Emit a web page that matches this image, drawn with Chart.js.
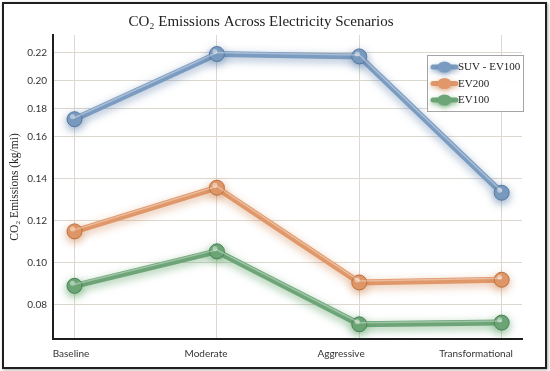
<!DOCTYPE html>
<html>
<head>
<meta charset="utf-8">
<script src="https://cdn.jsdelivr.net/npm/chart.js@4"></script>
<style>
  html, body { margin: 0; padding: 0; background: #ffffff; }
  #wrap { position: relative; width: 550px; height: 371px; }
  #frame {
    position: absolute; left: 2px; top: 2px; width: 545px; height: 367px;
    box-sizing: border-box; border: 2px solid #1e1e1e;
    box-shadow: 1px 1px 3px rgba(0, 0, 0, 0.35);
    pointer-events: none;
  }
  canvas { position: absolute; left: 0; top: 0; }
</style>
</head>
<body>
<div id="wrap">
  <canvas id="chart" width="550" height="371"></canvas>
  <div id="frame"></div>
</div>
<script>
const categories = ['Baseline', 'Moderate', 'Aggressive', 'Transformational']
const suvEv100 = [0.1725, 0.2188, 0.2171, 0.1334]
const ev200 = [0.1150, 0.1358, 0.0907, 0.0920]
const ev100 = [0.0891, 0.1055, 0.0708, 0.0716]
const yTicks = [0.08, 0.10, 0.12, 0.14, 0.16, 0.18, 0.20, 0.22]

// the y axis in the picture is squeezed above 0.16
const BREAK = 0.16
const UPPER_RATIO = 0.67
const warp = v => (v <= BREAK ? v : BREAK + (v - BREAK) * UPPER_RATIO)
const unwarp = w => (w <= BREAK ? w : BREAK + (w - BREAK) / UPPER_RATIO)

class PiecewiseScale extends Chart.LinearScale {
  getPixelForValue(value) {
    const lo = warp(this.min), hi = warp(this.max)
    return this.getPixelForDecimal((warp(value) - lo) / (hi - lo))
  }
  getValueForPixel(pixel) {
    const lo = warp(this.min), hi = warp(this.max)
    return unwarp(lo + this.getDecimalForPixel(pixel) * (hi - lo))
  }
}
PiecewiseScale.id = 'piecewise'
PiecewiseScale.defaults = Chart.LinearScale.defaults
Chart.register(PiecewiseScale)

const colors = ['#7b9cc0', '#e0986a', '#6ea578']
const edges = ['#56789e', '#b8703f', '#4a8057']
const glows = ['rgba(70, 110, 160, 0.5)', 'rgba(200, 110, 50, 0.45)', 'rgba(70, 150, 80, 0.55)']

const serif = "'Liberation Serif', 'DejaVu Serif', serif"
const narrow = "'Liberation Sans Narrow', Lato, sans-serif"

const tubePlugin = {
  id: 'tube',
  beforeDatasetDraw(chart, args) {
    const ctx = chart.ctx
    ctx.save()
    ctx.shadowColor = glows[args.index]
    ctx.shadowBlur = 8
    ctx.shadowOffsetY = 3
  },
  afterDatasetDraw(chart, args) {
    const ctx = chart.ctx
    ctx.restore()
    const pts = args.meta.data
    ctx.save()
    ctx.strokeStyle = 'rgba(255, 255, 255, 0.35)'
    ctx.lineWidth = 1.5
    ctx.lineJoin = 'round'
    ctx.beginPath()
    pts.forEach((p, i) => (i ? ctx.lineTo(p.x, p.y - 1.5) : ctx.moveTo(p.x, p.y - 1.5)))
    ctx.stroke()
    ctx.fillStyle = 'rgba(255, 255, 255, 0.45)'
    pts.forEach(p => {
      ctx.beginPath()
      ctx.arc(p.x - 2, p.y - 2.5, 2.5, 0, Math.PI * 2)
      ctx.fill()
    })
    ctx.restore()
  }
}

const boxLegend = {
  id: 'boxLegend',
  afterDraw(chart) {
    const ctx = chart.ctx
    const x = 427, y = 55, w = 96, h = 56
    ctx.save()
    ctx.fillStyle = 'rgba(255, 255, 255, 0.95)'
    ctx.fillRect(x, y, w, h)
    ctx.strokeStyle = '#a5a5a5'
    ctx.lineWidth = 1
    ctx.strokeRect(x + 0.5, y + 0.5, w, h)
    chart.data.datasets.forEach((ds, i) => {
      const cy = y + 12 + i * 16.5
      ctx.save()
      ctx.shadowColor = glows[i]
      ctx.shadowBlur = 5
      ctx.shadowOffsetY = 2
      ctx.strokeStyle = colors[i]
      ctx.lineWidth = 5
      ctx.lineCap = 'round'
      ctx.beginPath()
      ctx.moveTo(x + 6, cy)
      ctx.lineTo(x + 29, cy)
      ctx.stroke()
      ctx.fillStyle = colors[i]
      ctx.beginPath()
      ctx.ellipse(x + 17.5, cy, 7, 5.5, 0, 0, Math.PI * 2)
      ctx.fill()
      ctx.restore()
      ctx.fillStyle = '#222'
      ctx.font = '11px ' + serif
      ctx.textBaseline = 'middle'
      ctx.fillText(ds.label, x + 31, cy + 0.5)
    })
    ctx.restore()
  }
}

const makeSet = (label, values, i) => ({
  label,
  data: values.map((v, k) => ({ x: k, y: v })),
  xAxisID: 'xd',
  yAxisID: 'y',
  borderColor: colors[i],
  backgroundColor: colors[i],
  pointBackgroundColor: colors[i],
  pointBorderColor: edges[i],
  borderWidth: 6,
  pointRadius: 7.5,
  pointBorderWidth: 1,
  borderCapStyle: 'round',
  borderJoinStyle: 'round',
  tension: 0
})

new Chart(document.getElementById('chart'), {
  type: 'line',
  data: {
    datasets: [
      makeSet('SUV - EV100', suvEv100, 0),
      makeSet('EV200', ev200, 1),
      makeSet('EV100', ev100, 2)
    ]
  },
  options: {
    responsive: false,
    animation: false,
    layout: { padding: { left: 0, right: 28, top: 0, bottom: 0 } },
    plugins: {
      legend: { display: false },
      tooltip: { enabled: false },
      title: {
        display: true,
        text: 'CO₂ Emissions Across Electricity Scenarios',
        color: '#222',
        font: { family: serif, size: 15, weight: 'normal' },
        padding: { top: 13, bottom: 4 }
      }
    },
    scales: {
      xd: {
        type: 'linear',
        position: 'top',
        min: -0.151,
        max: 3.1426,
        afterBuildTicks: s => { s.ticks = categories.map((c, k) => ({ value: k })) },
        ticks: { display: false },
        grid: { color: '#dcd8cf', lineWidth: 1, drawTicks: false },
        border: { display: false },
        afterFit: s => { s.height = 0 }
      },
      x: {
        type: 'linear',
        position: 'bottom',
        min: -0.133,
        max: 3.34,
        afterBuildTicks: s => { s.ticks = categories.map((c, k) => ({ value: k })) },
        ticks: {
          autoSkip: false,
          maxRotation: 0,
          padding: 9,
          color: '#333',
          font: { family: narrow, size: 10 },
          callback: v => categories[v]
        },
        grid: { display: false, drawTicks: false },
        border: { display: true, color: '#1e1e1e', width: 2 },
        afterFit: s => { s.height = 32 }
      },
      y: {
        type: 'piecewise',
        min: 0.0638,
        max: 0.2323,
        afterBuildTicks: s => { s.ticks = yTicks.map(v => ({ value: v })) },
        ticks: {
          padding: 6,
          color: '#333',
          font: { family: narrow, size: 10 },
          callback: v => v.toFixed(2)
        },
        grid: { color: '#dcd8cf', lineWidth: 1, drawTicks: false },
        border: { display: true, color: '#1e1e1e', width: 2 },
        title: {
          display: true,
          text: 'CO₂ Emissions (kg/mi)',
          color: '#222',
          font: { family: serif, size: 11.5 },
          padding: { top: 8, bottom: 0 }
        },
        afterFit: s => { s.width = 53 }
      }
    }
  },
  plugins: [tubePlugin, boxLegend]
})
</script>
</body>
</html>
